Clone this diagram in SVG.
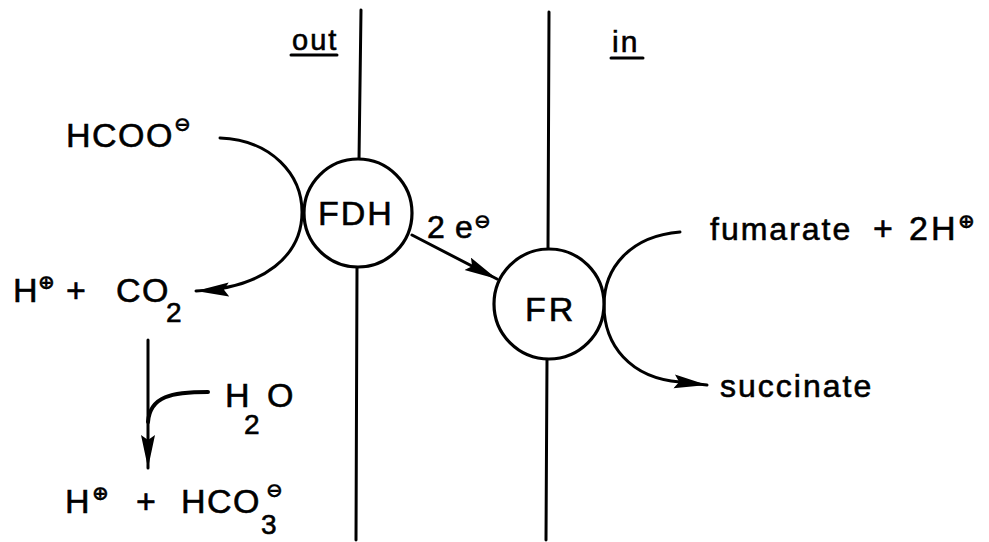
<svg xmlns="http://www.w3.org/2000/svg" width="989" height="542" viewBox="0 0 989 542">
  <style>
    .ln { fill: none; stroke: #000; stroke-width: 3; stroke-linecap: round; }
    .enz { fill: #fff; stroke: #000; stroke-width: 3.2; }
    text { font-family: "Liberation Sans", "DejaVu Sans", sans-serif; fill: #000; stroke: #000; stroke-width: 0.6; }
    .lbl { font-size: 34px; letter-spacing: 1.5px; }
    .sm { font-size: 32px; letter-spacing: 2px; }
    .sub { font-size: 28px; }
    .chg { font-family: "DejaVu Sans", sans-serif; font-size: 20px; font-weight: bold; stroke-width: 0.4; }
  </style>
  <defs>
    <marker id="head" markerUnits="userSpaceOnUse" markerWidth="36" markerHeight="16" refX="33" refY="7" orient="auto">
      <path d="M0,0 L33,7 L0,14 L5,7 z" fill="#000"/>
    </marker>
  </defs>

  <!-- membrane -->
  <g id="membrane">
    <path class="ln" d="M361,10 L359,160 M357,267 L356,540"/>
    <path class="ln" d="M549,12 L548,249 M547,359 L546,540"/>
  </g>

  <!-- side headings -->
  <g id="side-out">
    <text x="292" y="50" style="font-size:29px;letter-spacing:2px">out</text>
    <path class="ln" d="M291,55 L337,55"/>
  </g>
  <g id="side-in">
    <text x="612" y="52" style="font-size:30px;letter-spacing:2px">in</text>
    <path class="ln" d="M611,58 L643,58"/>
  </g>

  <!-- connectors -->
  <g id="connectors">
    <path class="ln" d="M220,138 C272,140 302,175 302,212 C302,255 265,288 196,291" marker-end="url(#head)"/>
    <path class="ln" d="M412,235 L497,279" marker-end="url(#head)"/>
    <path class="ln" d="M680,232 C630,236 604,268 604,305 C604,345 630,378 680,382 L707,385" marker-end="url(#head)"/>
    <path class="ln" d="M148,340 L148,468" marker-end="url(#head)"/>
    <path class="ln" style="stroke-width:4" d="M208,392 C172,392 150,396 148,422"/>
  </g>

  <!-- enzymes -->
  <g id="FDH">
    <circle class="enz" cx="358" cy="213" r="54"/>
    <text class="lbl" x="356" y="225" text-anchor="middle" style="letter-spacing:2px">FDH</text>
  </g>
  <g id="FR">
    <circle class="enz" cx="549" cy="304" r="55"/>
    <text class="lbl" x="525" y="321" style="letter-spacing:3px">FR</text>
  </g>

  <!-- species -->
  <g id="formate">
    <text class="lbl" x="66" y="147">HCOO</text>
    <text class="chg" x="174" y="131">⊖</text>
  </g>
  <g id="electrons">
    <text class="sm" x="427" y="238">2</text>
    <text class="sm" x="455" y="238">e</text>
    <text class="chg" x="474" y="228">⊖</text>
  </g>
  <g id="proton-co2">
    <text class="lbl" x="13" y="302">H</text>
    <text class="chg" x="38" y="289">⊕</text>
    <text class="lbl" x="66" y="302">+</text>
    <text class="lbl" x="116" y="302">CO</text>
    <text class="sub" x="166" y="322">2</text>
  </g>
  <g id="water">
    <text class="lbl" x="225" y="407">H</text>
    <text class="sub" x="244" y="434">2</text>
    <text class="lbl" x="267" y="407">O</text>
  </g>
  <g id="proton-bicarbonate">
    <text class="lbl" x="65" y="513">H</text>
    <text class="chg" x="92" y="500">⊕</text>
    <text class="lbl" x="136" y="513">+</text>
    <text class="lbl" x="181" y="513">HCO</text>
    <text class="sub" x="261" y="534">3</text>
    <text class="chg" x="266" y="497">⊖</text>
  </g>
  <g id="fumarate">
    <text class="sm" x="710" y="240">fumarate</text>
    <text class="lbl" x="873" y="240">+</text>
    <text class="lbl" x="909" y="240" style="letter-spacing:3px">2H</text>
    <text class="chg" x="958" y="228">⊕</text>
  </g>
  <g id="succinate">
    <text class="sm" x="720" y="397">succinate</text>
  </g>
</svg>
